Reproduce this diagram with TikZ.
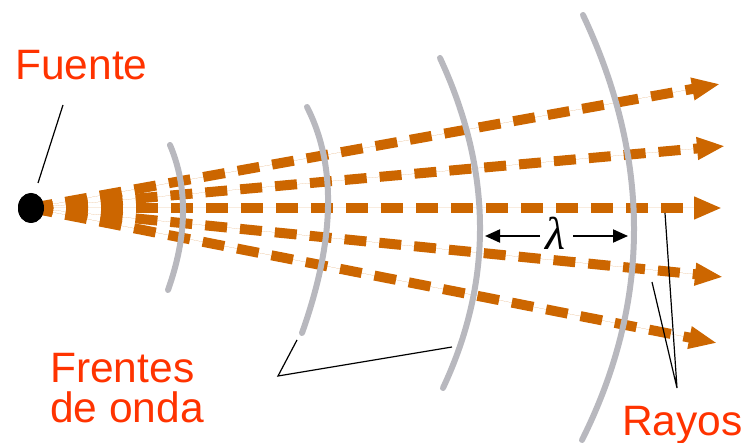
\documentclass[tikz,border=0pt]{standalone}
\usepackage{fontspec}
\setmainfont{Liberation Sans}
\newfontfamily\lamfont{Liberation Serif}
\usetikzlibrary{arrows.meta,shapes.geometric}
\definecolor{rayc}{RGB}{204,102,0}
\definecolor{labc}{RGB}{255,51,0}
\definecolor{frontc}{RGB}{184,184,190}
\begin{document}
\begin{tikzpicture}[x=1pt,y=-1pt,
  ray/.style={draw=rayc,fill=rayc,line width=10pt,dash pattern=on 22pt off 13pt,
    -{Triangle[length=28pt 0 0,width=21pt 0 0]}},
  front/.style={draw=frontc,line width=6pt,line cap=round},
  leader/.style={draw=black,line width=1.2pt},
  lab/.style={text=labc,font=\fontsize{42.5}{40}\selectfont,inner sep=0pt},
  dim/.style={draw=black,line width=2pt,-{Triangle[length=15pt 0 0,width=13pt 0 0]}}]
\useasboundingbox (0,0) rectangle (752,443);
% source
\node[ellipse,fill=black,minimum width=26pt,minimum height=30pt,inner sep=0pt] (src) at (31,208) {};
% rays
\coordinate (r1) at (720,84);
\coordinate (r2) at (725,146);
\coordinate (r3) at (722,208);
\coordinate (r4) at (723,277);
\coordinate (r5) at (717,343);
\foreach \r in {r1,r2,r3,r4,r5}{\draw[ray] (src.center) -- (\r);}
\node[ellipse,fill=black,minimum width=26pt,minimum height=30pt,inner sep=0pt] at (src.center) {};
% wave fronts
\draw[front] (170,145) .. controls (188,187.33) and (187.33,235.67) .. (168,290);
\draw[front] (307,107) .. controls (336.67,165) and (335,240.33) .. (302,333);
\draw[front] (440,58) .. controls (492.33,170.67) and (493.33,280.67) .. (443,388);
\draw[front] (583,15) .. controls (651.33,160) and (651,301.67) .. (582,440);
% wavelength
\node[anchor=base,inner sep=0pt,font=\fontsize{46}{46}\selectfont\lamfont\itshape] (lam) at (555,250) {λ};
\coordinate (l1) at (540,236);
\coordinate (l2) at (573,236);
\coordinate (la) at (485,236);
\coordinate (lb) at (628,236);
\draw[dim] (l1) -- (la);
\draw[dim] (l2) -- (lb);
% labels
\node[lab,anchor=base west] (fuente) at (15,80) {Fuente};
\node[lab,anchor=north west,align=left] (frentes) at (50,353) {Frentes\\de onda};
\node[lab,anchor=base west] (rayos) at (622,435) {Rayos};
% leaders
\coordinate (f1) at (63,105);
\coordinate (f2) at (38,183);
\draw[leader] (f1) -- (f2);
\coordinate (w1) at (297,340);
\coordinate (w2) at (278,376);
\coordinate (w3) at (452,347);
\draw[leader] (w1) -- (w2) -- (w3);
\coordinate (y1) at (665,213);
\coordinate (y2) at (677,388);
\coordinate (y3) at (652,282);
\draw[leader] (y1) -- (y2) -- (y3);
\end{tikzpicture}
\end{document}
